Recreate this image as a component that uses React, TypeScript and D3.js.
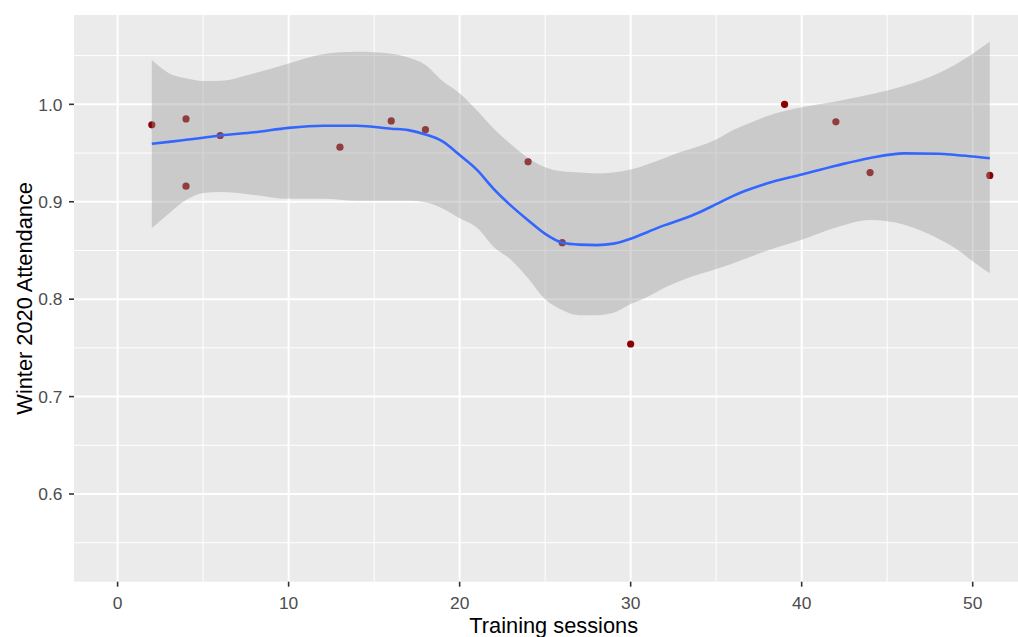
import React from "react";
import * as d3 from "d3";

// Observed points
const sessions = [2, 4, 4, 6, 13, 16, 18, 24, 26, 30, 39, 42, 44, 51];
const attendance = [0.979, 0.985, 0.916, 0.968, 0.956, 0.983, 0.974, 0.941, 0.858, 0.754, 1.0, 0.982, 0.93, 0.927];

// Loess smooth
const smoothX = [2, 3, 4, 5, 6, 8, 10, 12, 14, 16, 17, 18, 19, 20, 21, 22, 23, 24, 25, 26, 27, 28, 29, 30, 31, 32, 33, 34, 35, 36, 37, 38, 40, 42, 44, 46, 48, 49, 50, 51];
const smoothFit = [0.9596, 0.9615, 0.9636, 0.9657, 0.968, 0.9713, 0.9758, 0.978, 0.978, 0.975, 0.9735, 0.969, 0.962, 0.948, 0.933, 0.913, 0.896, 0.881, 0.867, 0.858, 0.856, 0.8555, 0.857, 0.862, 0.869, 0.876, 0.882, 0.889, 0.8975, 0.906, 0.913, 0.919, 0.928, 0.937, 0.945, 0.9497, 0.9493, 0.948, 0.9465, 0.9446];
const smoothUpper = [1.0455, 1.032, 1.0267, 1.024, 1.0242, 1.032, 1.042, 1.0515, 1.054, 1.052, 1.048, 1.0405, 1.024, 1.0115, 0.994, 0.975, 0.959, 0.945, 0.9355, 0.9312, 0.93, 0.929, 0.93, 0.933, 0.9385, 0.945, 0.9515, 0.957, 0.964, 0.9736, 0.981, 0.988, 0.997, 1.003, 1.01, 1.019, 1.032, 1.041, 1.052, 1.0643];
const smoothLower = [0.8727, 0.888, 0.9017, 0.909, 0.91, 0.907, 0.903, 0.903, 0.901, 0.901, 0.901, 0.8995, 0.893, 0.883, 0.8735, 0.8535, 0.8405, 0.8215, 0.8, 0.789, 0.7836, 0.7836, 0.786, 0.795, 0.8025, 0.812, 0.8195, 0.8255, 0.831, 0.8368, 0.8435, 0.85, 0.861, 0.8735, 0.8812, 0.8765, 0.862, 0.852, 0.839, 0.8265];

const xMajor = [0, 10, 20, 30, 40, 50];
const xMinor = [5, 15, 25, 35, 45];
const yMajor = [0.6, 0.7, 0.8, 0.9, 1.0];
const yMinor = [0.55, 0.65, 0.75, 0.85, 0.95, 1.05];

const xTitle = "Training sessions";
const yTitle = "Winter 2020 Attendance";

const W = 1018;
const H = 637;
const panel = { left: 74, right: 1033.4, top: 15, bottom: 581.7 };

export default function App() {
  const x = d3.scaleLinear().domain([-2.55, 53.55]).range([panel.left, panel.right]);
  const y = d3.scaleLinear().domain([0.51, 1.0917]).range([panel.bottom, panel.top]);

  const idx = smoothX.map((_, i) => i);
  const area = d3
    .area<number>()
    .x((i) => x(smoothX[i]))
    .y0((i) => y(smoothLower[i]))
    .y1((i) => y(smoothUpper[i]))
    .curve(d3.curveMonotoneX);
  const line = d3
    .line<number>()
    .x((i) => x(smoothX[i]))
    .y((i) => y(smoothFit[i]))
    .curve(d3.curveMonotoneX);

  const font = "'Liberation Sans', Arial, sans-serif";

  return (
    <svg
      width={W}
      height={H}
      style={{ position: "fixed", left: 0, top: 0, background: "#fff" }}
      fontFamily={font}
    >
      <rect x={0} y={0} width={W} height={H} fill="#fff" />
      <rect
        x={panel.left}
        y={panel.top}
        width={panel.right - panel.left}
        height={panel.bottom - panel.top}
        fill="#EBEBEB"
      />
      {yMinor.map((v) => (
        <line key={"ym" + v} x1={panel.left} x2={panel.right} y1={y(v)} y2={y(v)} stroke="#fff" strokeWidth={1} />
      ))}
      {xMinor.map((v) => (
        <line key={"xm" + v} x1={x(v)} x2={x(v)} y1={panel.top} y2={panel.bottom} stroke="#fff" strokeWidth={1} />
      ))}
      {yMajor.map((v) => (
        <line key={"yM" + v} x1={panel.left} x2={panel.right} y1={y(v)} y2={y(v)} stroke="#fff" strokeWidth={2} />
      ))}
      {xMajor.map((v) => (
        <line key={"xM" + v} x1={x(v)} x2={x(v)} y1={panel.top} y2={panel.bottom} stroke="#fff" strokeWidth={2} />
      ))}

      {sessions.map((s, i) => (
        <circle key={"p" + i} cx={x(s)} cy={y(attendance[i])} r={3.6} fill="#8B0000" />
      ))}

      <path d={area(idx) || ""} fill="#999999" fillOpacity={0.4} />
      <path d={line(idx) || ""} fill="none" stroke="#3366FF" strokeWidth={2.6} />

      {/* axes ticks */}
      {yMajor.map((v) => (
        <g key={"yt" + v}>
          <line x1={panel.left - 5} x2={panel.left} y1={y(v)} y2={y(v)} stroke="#333333" strokeWidth={1.6} />
          <text x={62.5} y={y(v)} dy="0.36em" textAnchor="end" fontSize={17.4} fill="#4D4D4D">
            {v.toFixed(1)}
          </text>
        </g>
      ))}
      {xMajor.map((v) => (
        <g key={"xt" + v}>
          <line x1={x(v)} x2={x(v)} y1={panel.bottom} y2={panel.bottom + 5} stroke="#333333" strokeWidth={1.6} />
          <text x={x(v)} y={609} textAnchor="middle" fontSize={17.4} fill="#4D4D4D">
            {v}
          </text>
        </g>
      ))}

      <text x={(panel.left + panel.right) / 2} y={633} textAnchor="middle" fontSize={21.8} fill="#000">
        {xTitle}
      </text>
      <text
        transform={`translate(31.5, ${(panel.top + panel.bottom) / 2}) rotate(-90)`}
        textAnchor="middle"
        fontSize={21.8}
        fill="#000"
      >
        {yTitle}
      </text>
    </svg>
  );
}
